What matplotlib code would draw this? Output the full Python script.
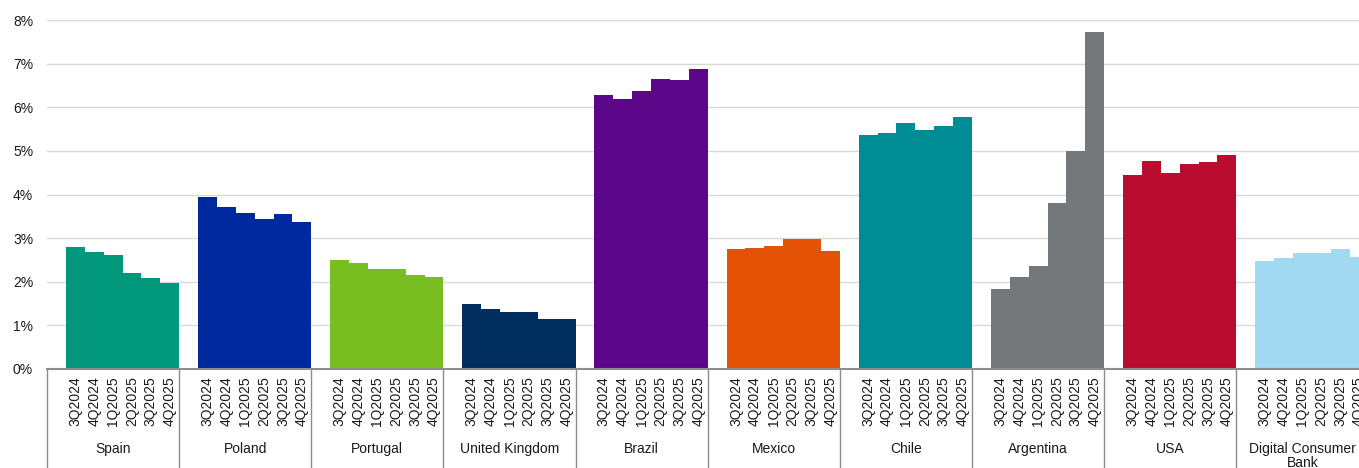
import numpy as np
import matplotlib.pyplot as plt
from matplotlib.transforms import blended_transform_factory

plt.rcParams['font.family'] = ['Liberation Sans', 'DejaVu Sans']

# --- data (percent) ---
quarters = ["3Q2024", "4Q2024", "1Q2025", "2Q2025", "3Q2025", "4Q2025"]
countries = ["Spain", "Poland", "Portugal", "United Kingdom", "Brazil",
             "Mexico", "Chile", "Argentina", "USA", "Digital Consumer\nBank"]
spain = [2.80, 2.68, 2.61, 2.20, 2.09, 1.97]
poland = [3.95, 3.71, 3.57, 3.43, 3.55, 3.38]
portugal = [2.51, 2.44, 2.30, 2.30, 2.15, 2.12]
uk = [1.49, 1.38, 1.30, 1.30, 1.14, 1.14]
brazil = [6.29, 6.19, 6.38, 6.65, 6.62, 6.87]
mexico = [2.75, 2.77, 2.83, 2.98, 2.99, 2.70]
chile = [5.36, 5.42, 5.63, 5.48, 5.58, 5.77]
argentina = [1.83, 2.11, 2.37, 3.81, 5.00, 7.72]
usa = [4.45, 4.76, 4.50, 4.69, 4.75, 4.90]
dcb = [2.48, 2.54, 2.66, 2.66, 2.74, 2.57]
series = [spain, poland, portugal, uk, brazil, mexico, chile, argentina, usa, dcb]
colors = ["#00977A", "#0029A0", "#78BE20", "#002E5F", "#5C0689",
          "#E35205", "#008C95", "#75787B", "#BA0C2F", "#A2D9F2"]

W, H = 1359, 468
fig = plt.figure(figsize=(W / 100, H / 100), dpi=100)
ax = fig.add_axes([47 / W, (H - 369) / H, 1 - 47 / W, 349 / H])

slot = 7  # one empty slot + six bars per group
tick_pos, tick_lab = [], []
for g, (vals, col) in enumerate(zip(series, colors)):
    x = g * slot + 1.5 + np.arange(len(vals))
    ax.bar(x, vals, width=1.0, color=col, linewidth=0, zorder=3)
    tick_pos.extend(x)
    tick_lab.extend(quarters)

ax.set_xlim(0, (W - 47) / 18.9)
ax.set_ylim(0, 8)
ax.set_yticks(np.arange(0, 9))
ax.set_yticklabels([f"{v}%" for v in range(9)])
ax.grid(axis='y', color='#D9D9D9', linewidth=1.0, zorder=0)
ax.set_axisbelow(True)
for s in ["top", "right", "left"]:
    ax.spines[s].set_visible(False)
ax.spines["bottom"].set_color("#8C8C8C")
ax.spines["bottom"].set_linewidth(1.5)
ax.spines["bottom"].set_zorder(4)

ax.set_xticks(tick_pos)
ax.set_xticklabels(tick_lab, rotation=90, fontsize=10, color="#1A1A1A")
ax.tick_params(axis='x', length=0, pad=5)
ax.tick_params(axis='y', length=0, pad=10, labelsize=10, labelcolor="#1A1A1A")

# group separators and group labels under the axis
trans = blended_transform_factory(ax.transData, ax.transAxes)
for g, name in enumerate(countries):
    ax.plot([g * slot, g * slot], [0, -0.35], transform=trans, color="#8C8C8C",
            linewidth=1.0, clip_on=False)
    ax.text(g * slot + slot / 2, -0.209, name, transform=trans, ha='center',
            va='top', fontsize=10, color="#1A1A1A", linespacing=1.0,
            clip_on=False)

fig.savefig("out.png", dpi=100)
